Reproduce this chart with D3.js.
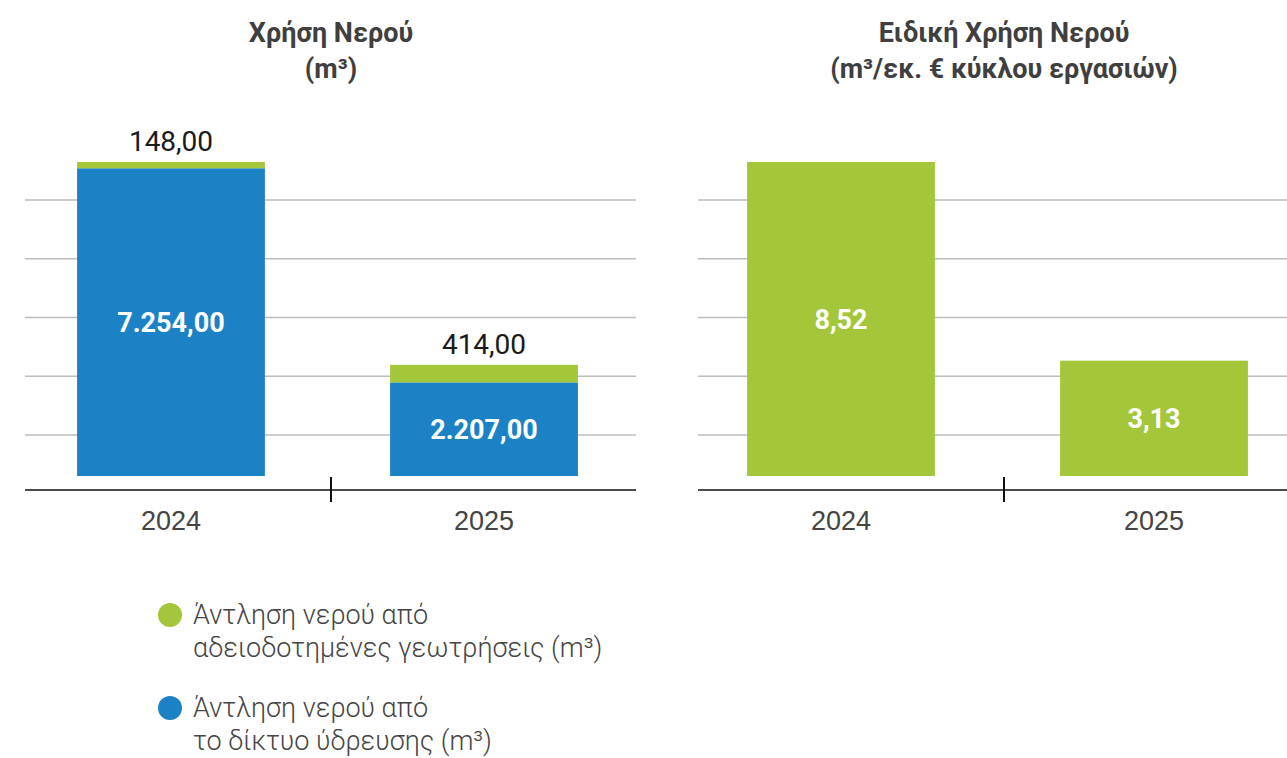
<!DOCTYPE html>
<html>
<head>
<meta charset="utf-8">
<script src="https://cdnjs.cloudflare.com/ajax/libs/d3/7.8.5/d3.min.js"></script>
<style>
    body { margin: 0; background: #fff; }
    svg { display: block; font-family: Roboto, "Noto Sans", sans-serif; }
    .title { font-weight: 700; font-size: 27px; fill: #3f3f3f; text-anchor: middle; }
    .grid line { stroke: #bdbdbd; stroke-width: 1.5; }
    .valueOut { font-size: 28px; fill: #1a1a1a; text-anchor: middle; }
    .valueIn { font-size: 27px; font-weight: 700; fill: #fff; text-anchor: middle; }
    .x-axis text { font-size: 27px; fill: #444; }
    .legend text { font-size: 27px; fill: #444; font-weight: 300; }
</style>
</head>
<body>
<div id="chart"></div>
<script>
// data
var years = ["2024", "2025"];
var networkWater = [7254.00, 2207.00];   // Άντληση νερού από το δίκτυο ύδρευσης (m3)
var boreholeWater = [148.00, 414.00];    // Άντληση νερού από αδειοδοτημένες γεωτρήσεις (m3)
var specificUse = [8.52, 3.13];          // m3 / εκ. € κύκλου εργασιών
var gridValues = [1, 2, 3, 4, 5];

var leftTitle = ["Χρήση Νερού", "(m³)"];
var rightTitle = ["Ειδική Χρήση Νερού", "(m³/εκ. € κύκλου εργασιών)"];
var legendItems = [
    { lines: ["Άντληση νερού από", "αδειοδοτημένες γεωτρήσεις (m³)"], color: "#a3c63b" },
    { lines: ["Άντληση νερού από", "το δίκτυο ύδρευσης (m³)"], color: "#1b82c5" }
];

var green = "#a3c63b";
var blue = "#1b82c5";

var greek = d3.formatLocale({ decimal: ",", thousands: ".", grouping: [3], currency: ["", "€"] });
var fmt = greek.format(",.2f");

var svgWidth = 1287;
var svgHeight = 758;
var baseline = 476;   // bars sit a bit above the axis line
var axisY = 490;

var svg = d3.select("#chart")
    .append("svg")
    .attr("width", svgWidth)
    .attr("height", svgHeight);

// grid scale shared by both panels
var gridScale = d3.scaleLinear().domain([0, 6]).range([493.75, 141.25]);

function drawPanel(opts) {
    var g = svg.append("g");

    // titles
    g.selectAll("text.title")
        .data(opts.title)
        .enter()
        .append("text")
        .attr("class", "title")
        .attr("x", opts.tickX)
        .attr("y", (d, i) => 42 + i * 36)
        .text(d => d);

    // gridlines
    g.append("g")
        .attr("class", "grid")
        .selectAll("line")
        .data(gridValues)
        .enter()
        .append("line")
        .attr("x1", opts.lineX[0])
        .attr("x2", opts.lineX[1])
        .attr("y1", d => gridScale(d))
        .attr("y2", d => gridScale(d));

    var x = d3.scaleBand()
        .domain(years)
        .range(opts.bandRange)
        .paddingInner(0.4)
        .paddingOuter(0.176);

    var y = d3.scaleLinear()
        .domain([0, opts.maxValue])
        .range([baseline, 162]);

    // stacked bars
    var series = d3.stack().keys(opts.keys)(opts.rows);
    var colors = opts.colors;

    var layers = g.selectAll("g.layer")
        .data(series)
        .enter()
        .append("g")
        .attr("class", "layer")
        .attr("fill", (d, i) => colors[i]);

    layers.selectAll("rect")
        .data(d => d)
        .enter()
        .append("rect")
        .attr("x", d => x(d.data.year))
        .attr("width", x.bandwidth())
        .attr("y", d => y(d[1]))
        .attr("height", d => y(d[0]) - y(d[1]));

    // labels inside the bottom segment
    var bottom = series[0];
    g.selectAll("text.valueIn")
        .data(bottom)
        .enter()
        .append("text")
        .attr("class", "valueIn")
        .attr("x", d => x(d.data.year) + x.bandwidth() / 2)
        .attr("y", d => (y(d[0]) + y(d[1])) / 2)
        .attr("dy", "0.36em")
        .text(d => fmt(d[1] - d[0]));

    // labels above the top segment
    if (series.length > 1) {
        var top = series[series.length - 1];
        g.selectAll("text.valueOut")
            .data(top)
            .enter()
            .append("text")
            .attr("class", "valueOut")
            .attr("x", d => x(d.data.year) + x.bandwidth() / 2)
            .attr("y", d => y(d[1]) - 11)
            .text(d => fmt(d[1] - d[0]));
    }

    // x axis
    var axis = g.append("g")
        .attr("class", "x-axis")
        .attr("transform", `translate(0, ${axisY})`)
        .call(d3.axisBottom(x).tickSize(0).tickPadding(21));
    axis.select(".domain").remove();

    g.append("line")
        .attr("x1", opts.lineX[0])
        .attr("x2", opts.lineX[1])
        .attr("y1", axisY)
        .attr("y2", axisY)
        .attr("stroke", "#111")
        .attr("stroke-width", 1.6);

    g.append("line")
        .attr("x1", opts.tickX)
        .attr("x2", opts.tickX)
        .attr("y1", axisY - 13)
        .attr("y2", axisY + 12)
        .attr("stroke", "#111")
        .attr("stroke-width", 2);
}

// left panel: water use, stacked
drawPanel({
    title: leftTitle,
    lineX: [25, 636],
    bandRange: [22, 633],
    tickX: 331,
    keys: ["network", "borehole"],
    colors: [blue, green],
    rows: years.map((yr, i) => ({ year: yr, network: networkWater[i], borehole: boreholeWater[i] })),
    maxValue: networkWater[0] + boreholeWater[0]
});

// right panel: specific water use
drawPanel({
    title: rightTitle,
    lineX: [698, 1287],
    bandRange: [692, 1303],
    tickX: 1004,
    keys: ["specific"],
    colors: [green],
    rows: years.map((yr, i) => ({ year: yr, specific: specificUse[i] })),
    maxValue: d3.max(specificUse)
});

// legend
var legend = svg.append("g")
    .attr("class", "legend")
    .selectAll("g")
    .data(legendItems)
    .enter()
    .append("g")
    .attr("transform", (d, i) => `translate(170, ${615 + i * 93})`);

legend.append("circle")
    .attr("r", 12)
    .attr("fill", d => d.color);

legend.selectAll("text")
    .data(d => d.lines)
    .enter()
    .append("text")
    .attr("x", 23)
    .attr("y", (d, i) => 9 + i * 33)
    .text(d => d);
</script>
</body>
</html>
